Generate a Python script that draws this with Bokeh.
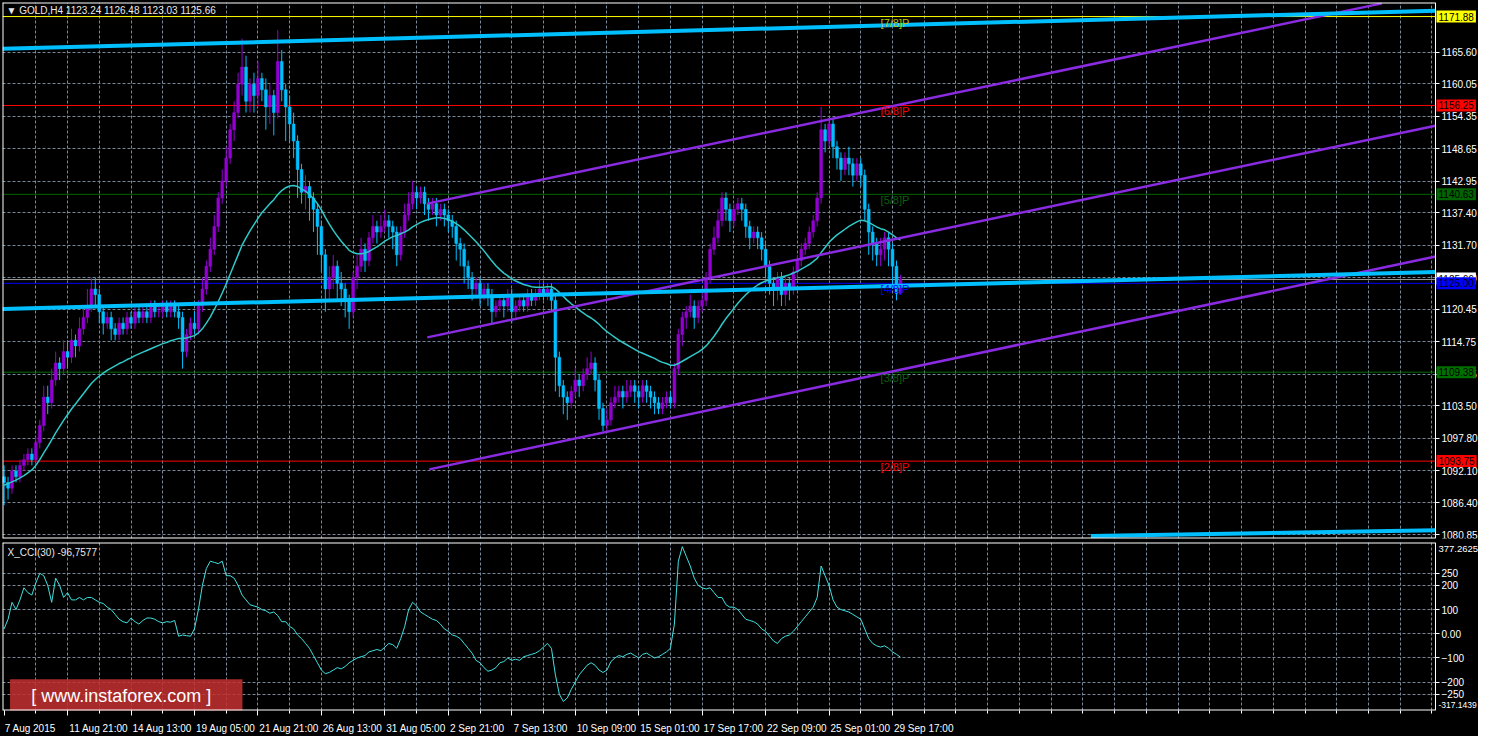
from bokeh.plotting import figure
from bokeh.layouts import column
from bokeh.models import ColumnDataSource, FixedTicker, Label, NumeralTickFormatter, LinearAxis
from bokeh.embed import file_html
from bokeh.resources import INLINE

# ---------------- data ----------------
first_open = 1091.0
closes = [1090,1089,1092,1091,1093,1094,1095,1094,1097,1100,
1105,1104,1108,1111,1110,1113,1112,1115,1114,1117,
1119,1121,1124,1123,1120,1118,1119,1117,1116,1118,
1117,1119,1118,1120,1119,1120,1119,1121,1120,1120,
1121,1120,1121,1120,1119,1113,1116,1118,1117,1121,
1124,1128,1131,1135,1140,1143,1147,1152,1155,1160,
1163,1157,1160,1158,1161,1159,1156,1158,1155,1164,
1159,1156,1153,1150,1145,1141,1142,1140,1138,1135,
1130,1124,1126,1128,1125,1124,1122,1120,1126,1128,
1131,1129,1133,1135,1134,1135,1136,1135,1134,1130,
1134,1137,1139,1141,1140,1141,1139,1138,1139,1137,
1138,1137,1136,1135,1132,1131,1128,1126,1124,1125,
1123,1124,1123,1120,1121,1122,1121,1123,1120,1121,
1122,1121,1123,1122,1123,1124,1123,1124,1122,1112,
1107,1105,1104,1106,1108,1107,1109,1110,1111,1108,
1103,1100,1101,1104,1105,1106,1105,1106,1107,1106,
1105,1107,1106,1105,1104,1103,1104,1105,1104,1110,
1116,1119,1120,1121,1119,1121,1122,1126,1131,1133,
1136,1140,1138,1136,1138,1139,1138,1135,1133,1134,
1133,1131,1128,1125,1124,1126,1123,1125,1124,1127,
1129,1131,1132,1134,1136,1140,1152,1150,1153,1149,
1147,1145,1147,1146,1144,1146,1144,1138,1134,1132,
1130,1131,1133,1131,1128,1123.24,1125.66]

highs = [1093,1091,1093,1093,1094,1095,1096,1096,1098,1101,
1107,1107,1110,1113,1112,1115,1115,1117,1116,1119,
1121,1124,1126,1126,1124,1121,1120,1120,1118,1119,
1119,1120,1120,1121,1121,1121,1121,1122,1122,1121,
1122,1122,1122,1122,1121,1120,1117,1119,1120,1122,
1126,1129,1133,1137,1141,1145,1149,1153,1157,1162,
1168,1165,1161,1162,1164,1162,1161,1160,1159,1169.5,
1166,1160,1158,1155,1151,1146,1144,1143,1141,1139,
1136,1131,1128,1130,1129,1127,1125,1123,1127,1130,
1133,1132,1134,1137,1136,1137,1138,1137,1136,1135,
1135,1139,1141,1143,1142,1142,1142,1140,1140,1140,
1139,1139,1138,1137,1136,1133,1132,1129,1127,1126,
1126,1125,1125,1124,1122,1123,1123,1124,1124,1122,
1123,1123,1124,1124,1124,1126,1125,1125,1125,1123,
1113,1108,1106,1107,1110,1109,1110,1112,1113,1112,
1109,1104,1103,1105,1107,1107,1107,1108,1108,1108,
1107,1108,1108,1107,1106,1105,1105,1106,1106,1111,
1117,1120,1121,1123,1122,1122,1124,1127,1132,1135,
1138,1141,1141,1139,1139,1140,1140,1139,1136,1135,
1135,1134,1132,1129,1126,1127,1127,1126,1126,1128,
1130,1132,1133,1135,1137,1141,1156,1153,1154,1154,
1150,1148,1148,1149,1147,1147,1147,1145,1139,1135,
1133,1133,1134,1134,1132,1129,1126.48]

lows = [1086,1087,1088,1090,1090,1092,1093,1093,1093,1096,
1099,1102,1103,1107,1108,1109,1110,1111,1112,1113,
1116,1118,1120,1121,1118,1116,1117,1115,1115,1115,
1116,1116,1117,1117,1118,1118,1118,1118,1119,1119,
1119,1119,1119,1119,1117,1110,1112,1115,1116,1116,
1120,1123,1127,1130,1134,1139,1142,1146,1150,1154,
1158,1155,1155,1155,1156,1157,1152,1153,1151,1154,
1157,1150,1150,1147,1140,1139,1138,1136,1134,1130,
1127,1120,1122,1124,1122,1121,1119,1117,1119,1124,
1127,1127,1128,1132,1132,1133,1134,1133,1131,1128,
1129,1133,1136,1138,1138,1139,1137,1136,1137,1135,
1136,1135,1134,1133,1129,1128,1125,1124,1122,1123,
1121,1122,1121,1118,1119,1120,1119,1120,1118,1119,
1120,1120,1120,1121,1121,1122,1122,1122,1120,1106,
1105,1102,1101,1103,1105,1105,1106,1108,1109,1106,
1101,1099,1099,1100,1103,1104,1103,1104,1105,1104,
1103,1104,1104,1103,1102,1102,1102,1103,1103,1103,
1109,1114,1117,1119,1117,1118,1120,1121,1125,1130,
1132,1135,1136,1134,1135,1137,1136,1133,1131,1132,
1131,1129,1126,1123,1121,1122,1121,1121,1122,1123,
1126,1128,1130,1131,1133,1135,1139,1148,1149,1147,
1145,1143,1144,1144,1142,1143,1142,1136,1130,1129,
1128,1128,1129,1128,1124,1122,1123.03]

ma30 = [1089.5,1089.8,1090.1,1090.4,1090.8,1091.2,1091.7,1092.2,1093.0,1094.0,
1095.2,1096.3,1097.5,1098.7,1099.8,1100.9,1101.9,1102.9,1103.8,1104.7,
1105.6,1106.5,1107.4,1108.1,1108.7,1109.2,1109.7,1110.1,1110.5,1110.9,
1111.2,1111.6,1111.9,1112.3,1112.6,1112.9,1113.2,1113.5,1113.8,1114.1,
1114.4,1114.6,1114.9,1115.1,1115.3,1115.3,1115.4,1115.6,1115.8,1116.3,
1117.0,1118.0,1119.1,1120.4,1121.8,1123.3,1124.9,1126.6,1128.3,1130.0,
1131.7,1133.0,1134.2,1135.3,1136.4,1137.4,1138.2,1139.0,1139.7,1140.6,
1141.3,1141.8,1142.1,1142.2,1142.0,1141.6,1141.2,1140.6,1139.9,1139.0,
1137.9,1136.6,1135.4,1134.3,1133.3,1132.4,1131.6,1130.8,1130.4,1130.2,
1130.2,1130.3,1130.6,1131.0,1131.4,1131.9,1132.4,1132.8,1133.2,1133.4,
1133.7,1134.0,1134.4,1134.9,1135.3,1135.7,1136.0,1136.2,1136.4,1136.5,
1136.5,1136.4,1136.2,1135.9,1135.5,1135.0,1134.4,1133.7,1133.0,1132.3,
1131.5,1130.7,1129.8,1128.9,1128.1,1127.4,1126.8,1126.3,1125.8,1125.4,
1125.1,1124.8,1124.6,1124.4,1124.3,1124.3,1124.3,1124.4,1124.4,1124.0,
1123.4,1122.7,1122.0,1121.4,1120.9,1120.3,1119.8,1119.3,1118.9,1118.4,
1117.8,1117.1,1116.5,1116.0,1115.5,1115.0,1114.6,1114.2,1113.8,1113.4,
1113.0,1112.7,1112.4,1112.1,1111.8,1111.4,1111.1,1110.9,1110.6,1110.6,
1110.9,1111.3,1111.7,1112.1,1112.5,1112.9,1113.4,1114.0,1114.8,1115.7,
1116.7,1117.8,1118.8,1119.7,1120.6,1121.5,1122.3,1123.0,1123.6,1124.2,
1124.7,1125.1,1125.4,1125.6,1125.8,1126.0,1126.1,1126.3,1126.5,1126.8,
1127.1,1127.5,1127.9,1128.3,1128.8,1129.4,1130.4,1131.3,1132.2,1132.9,
1133.5,1134.0,1134.5,1135.0,1135.4,1135.8,1136.1,1136.0,1135.7,1135.3,
1134.9,1134.6,1134.4,1134.0,1133.5,1133.0,1132.6]

cci30 = [20,60,130,100,140,190,170,160,210,250,
240,200,130,230,200,150,170,140,140,150,
140,150,150,140,130,125,110,100,80,60,
50,45,65,50,40,55,65,65,60,50,
45,50,48,55,-10,-5,-8,-10,20,100,
200,270,300,295,290,300,240,240,230,200,
160,140,120,115,110,100,95,85,90,75,
50,50,30,20,-5,-20,-40,-60,-90,-120,
-150,-165,-160,-150,-140,-145,-135,-120,-110,-100,
-95,-90,-75,-70,-65,-70,-55,-40,-45,-60,
-20,30,100,130,115,90,80,70,60,55,
40,20,10,-5,-10,-20,-40,-60,-80,-110,
-120,-140,-155,-150,-140,-120,-115,-100,-110,-105,
-110,-95,-90,-85,-80,-70,-55,-40,-60,-170,
-250,-280,-265,-230,-200,-170,-150,-130,-120,-130,
-150,-160,-150,-115,-100,-90,-95,-85,-80,-90,
-100,-85,-80,-90,-100,-95,-85,-75,-60,40,
300,360,320,280,230,200,190,185,190,170,
150,150,120,110,110,100,80,60,55,50,
40,20,10,-10,-30,-40,-20,-10,-5,10,
30,50,70,90,110,150,280,240,200,140,
110,100,95,90,80,70,60,20,-20,-40,
-50,-55,-50,-60,-75,-85,-96.7577]

date_ticks = [0, 16, 32, 48, 64, 80, 96, 112, 128, 144, 160, 176, 192, 208, 224]
date_labels = ["7 Aug 2015", "11 Aug 21:00", "14 Aug 13:00", "19 Aug 05:00", "21 Aug 21:00",
               "26 Aug 13:00", "31 Aug 05:00", "2 Sep 21:00", "7 Sep 13:00", "10 Sep 09:00",
               "15 Sep 01:00", "17 Sep 17:00", "22 Sep 09:00", "25 Sep 01:00", "29 Sep 17:00"]
price_ticks = [1165.60, 1160.05, 1154.35, 1148.65, 1142.95, 1137.40, 1131.70, 1126.00,
               1120.45, 1114.75, 1109.05, 1103.50, 1097.80, 1092.10, 1086.40, 1080.85]
cci_ticks = [250, 200, 100, 0, -100, -200, -250]
cci_min, cci_max = -317.1439, 377.2625

murrey_levels = [1171.88, 1156.25, 1140.63, 1125.00, 1109.38, 1093.75]
murrey_names = ["[7/8]P", "[6/8]P", "[5/8]P", "[4/8]P", "[3/8]P", "[2/8]P"]
murrey_line_colors = ["#FFFF00", "#FF0000", "#006400", "#0000FF", "#007000", "#FF0000"]
murrey_text_colors = ["#BFBF00", "#FF0000", "#0B5F0B", "#0000FF", "#0B5F0B", "#FF0000"]
current_price = 1125.66

blue_x0 = [-0.4, -0.4, 274.0]
blue_y0 = [1166.2, 1120.5, 1080.6]
blue_x1 = [360.9, 360.9, 360.9]
blue_y1 = [1172.9, 1127.0, 1081.6]

purple_x0 = [106.7, 106.7, 107.2]
purple_y0 = [1139.0, 1115.5, 1092.3]
purple_x1 = [347.4, 360.9, 360.9]
purple_y1 = [1174.2, 1152.7, 1129.7]

# ---------------- layout ----------------
FONT = "Liberation Sans"
BORDER_L = 2
FRAME_W = 1476          # frame covers chart area + price-label column
CHART_W = 1433          # chart part, right of it sits the price axis
X_START, X_END = -0.4, 360.9
px_per_bar = CHART_W / (X_END - X_START)
X_FULL = X_END + (FRAME_W - CHART_W) / px_per_bar
Y_MIN, Y_MAX = 1080.15, 1174.35
MAIN_H, CCI_H = 536, 168
TAG_X = X_END + 1.0 / px_per_bar
GRID = "#778899"

n = len(closes)
xs = list(range(n))
opens = [first_open] + closes[:-1]
colors = ["#9400D3" if c >= o else "#00BFFF" for o, c in zip(opens, closes)]
src = ColumnDataSource(dict(
    x=xs, o=opens, c=closes, h=highs, l=lows,
    top=[max(o, c) for o, c in zip(opens, closes)],
    bot=[min(o, c) for o, c in zip(opens, closes)],
    color=colors, ma=ma30, cci=cci30))


def make_fig(height, yr, **kw):
    fig = figure(frame_width=FRAME_W, frame_height=height, output_backend="svg",
                 toolbar_location=None, y_range=yr, y_axis_location=None,
                 min_border_left=BORDER_L, min_border_right=0, min_border_top=2, **kw)
    fig.background_fill_color = "black"
    fig.border_fill_color = "black"
    fig.outline_line_color = None
    fig.grid.grid_line_color = GRID
    fig.grid.grid_line_dash = "3 2"
    fig.grid.grid_line_width = 1
    fig.xgrid.ticker = FixedTicker(ticks=list(range(8, 361, 8)))
    return fig


def price_axis(fig, ticks):
    ax = LinearAxis(fixed_location=X_END, ticker=FixedTicker(ticks=ticks),
                    axis_line_color="white", major_tick_line_color="white",
                    major_tick_out=4, major_tick_in=0, minor_tick_line_color=None,
                    major_label_text_color="white", major_label_text_font=FONT,
                    major_label_text_font_size="10px", major_label_standoff=2)
    fig.add_layout(ax, "right")
    return ax


def frame_box(fig, y0, y1):
    # black column behind the price labels, and white frame lines
    fig.quad(left=X_END, right=X_FULL, bottom=y0, top=y1, fill_color="black", line_color=None)
    fig.segment(x0=[X_START, X_START, X_START], y0=[y1, y0, y0],
                x1=[X_END, X_END, X_START], y1=[y1, y0, y1], color="white", line_width=2)


def tag(fig, y, text, bg, fg="black", baseline="middle", yoff=0, size="10px"):
    fig.add_layout(Label(x=TAG_X, y=y, text=text, text_color=fg, text_font=FONT,
                         text_font_size=size, text_baseline=baseline, text_align="left",
                         y_offset=yoff, background_fill_color=bg, padding=2))


# ---------------- main panel ----------------
p = make_fig(MAIN_H, (Y_MIN, Y_MAX), x_range=(X_START, X_FULL), x_axis_location=None,
             min_border_bottom=2)
p.ygrid.ticker = FixedTicker(ticks=price_ticks)

# horizontal levels (stop at the price axis)
p.segment(x0=[X_START] * len(murrey_levels), y0=murrey_levels,
          x1=[X_END] * len(murrey_levels), y1=murrey_levels, color=murrey_line_colors,
          line_width=1)
p.segment(x0=[X_START], y0=[current_price], x1=[X_END], y1=[current_price],
          color="#A0A0A0", line_width=1)

# candles
p.segment(x0="x", y0="l", x1="x", y1="h", color="color", line_width=1, source=src)
p.vbar(x="x", width=0.72, top="top", bottom="bot", fill_color="color", line_color="color",
       line_width=0.5, source=src)
# moving average
p.line(x="x", y="ma", color="#30C8C8", line_width=1.5, source=src)

# channel lines
p.segment(x0=purple_x0, y0=purple_y0, x1=purple_x1, y1=purple_y1, color="#8A2BE2", line_width=2.5)
p.segment(x0=blue_x0, y0=blue_y0, x1=blue_x1, y1=blue_y1, color="#00BFFF", line_width=4)

frame_box(p, Y_MIN, Y_MAX)
pax = price_axis(p, price_ticks)
pax.formatter = NumeralTickFormatter(format="0.00")

# murrey labels
for lvl, name, tc in zip(murrey_levels, murrey_names, murrey_text_colors):
    p.add_layout(Label(x=221, y=lvl, text=name, text_color=tc, text_font=FONT,
                       text_font_size="11px", text_baseline="top", text_align="left"))

# price tags on the axis
tag_bg = dict(zip(murrey_levels, murrey_line_colors))
tag(p, current_price, f"{current_price:.2f}", "white", yoff=1)
for lvl in murrey_levels:
    tag(p, lvl, f"{lvl:.2f}", tag_bg[lvl])

# title
p.add_layout(Label(x=X_START + 4 / px_per_bar, y=Y_MAX - 8 * (Y_MAX - Y_MIN) / MAIN_H,
                   text="\u25BC  GOLD,H4  1123.24 1126.48 1123.03 1125.66", text_color="#E8E8E8",
                   text_font=FONT, text_font_size="10px", text_baseline="middle"))

# ---------------- CCI panel ----------------
q = make_fig(CCI_H, (cci_min, cci_max), x_range=p.x_range, min_border_bottom=0)
q.ygrid.ticker = FixedTicker(ticks=cci_ticks)

# watermark box
q.quad(left=1.5, right=60.1, top=-188, bottom=-330, fill_color="#C43030", fill_alpha=0.85,
       line_color=None)
q.line(x="x", y="cci", color="#40E0E0", line_width=1, source=src)

frame_box(q, cci_min, cci_max)
qax = price_axis(q, cci_ticks)
qax.major_label_overrides = {0: "0.00"}

# axis with tick marks only
xa = q.xaxis[0]
xa.ticker = FixedTicker(ticks=date_ticks, minor_ticks=list(range(0, 361, 8)))
xa.major_label_overrides = {t: "" for t in date_ticks}
xa.major_label_text_font_size = "1px"
xa.major_label_standoff = 0
xa.axis_line_color = None
xa.major_tick_line_color = "white"
xa.minor_tick_line_color = "white"
xa.major_tick_out = 5
xa.major_tick_in = 0
xa.minor_tick_out = 3
xa.minor_tick_in = 0

# second axis carrying the date texts, centred so that each starts at its tick
label_pos = [t + 0.5 * len(s) * 5.0 / px_per_bar + 0.3 for t, s in zip(date_ticks, date_labels)]
xb = LinearAxis(ticker=FixedTicker(ticks=label_pos),
                major_label_overrides={t: s for t, s in zip(label_pos, date_labels)},
                axis_line_color=None, major_tick_line_color=None, minor_tick_line_color=None,
                major_label_text_color="white", major_label_text_font=FONT,
                major_label_text_font_size="10px", major_label_standoff=1)
q.add_layout(xb, "below")

q.add_layout(Label(x=30.8, y=-258, text="[  www.instaforex.com  ]", text_color="white",
                   text_font=FONT, text_font_size="18px", text_baseline="middle",
                   text_align="center"))
q.add_layout(Label(x=X_START + 5 / px_per_bar, y=cci_max - 10 * (cci_max - cci_min) / CCI_H,
                   text="X_CCI(30) -96,7577", text_color="#E8E8E8", text_font=FONT,
                   text_font_size="10px", text_baseline="middle"))
tag(q, cci_max, "377.2625", None, fg="white", baseline="top", yoff=-1, size="9.5px")
tag(q, cci_min, "-317.1439", None, fg="white", baseline="bottom", yoff=1, size="8.5px")

layout = column(p, q, spacing=0, background="black")
open("out.html", "w").write(file_html(layout, INLINE))
